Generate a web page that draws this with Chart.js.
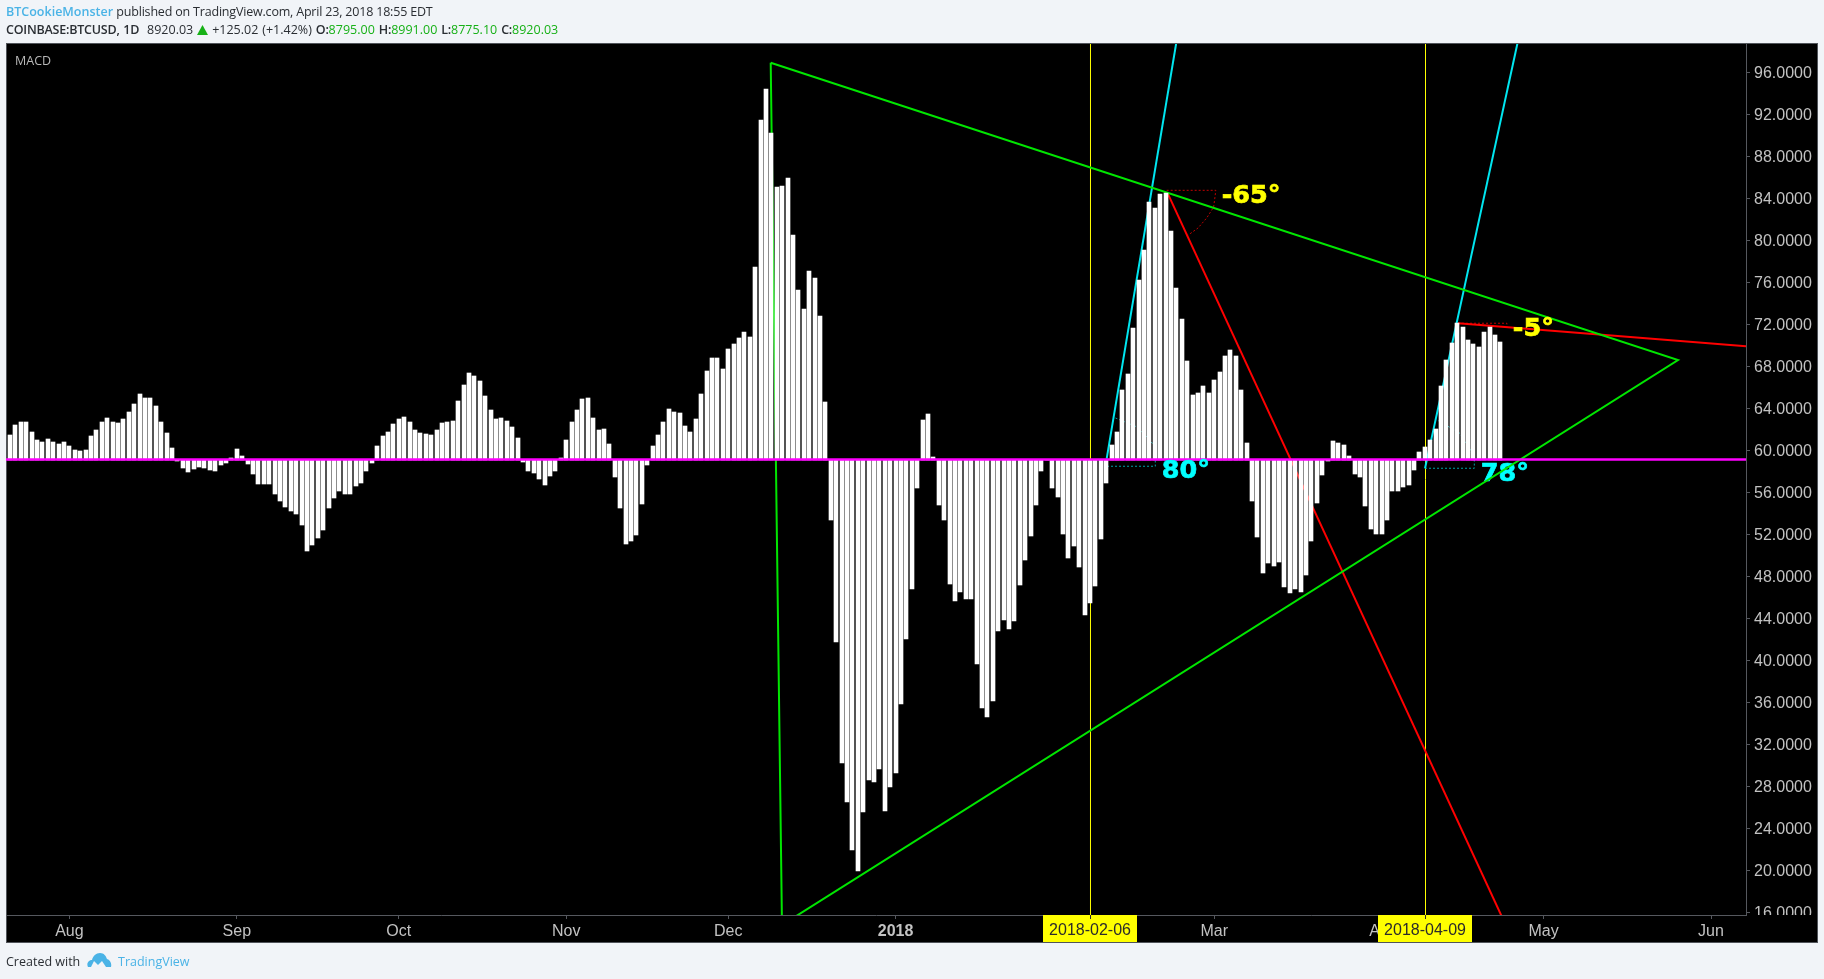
<!DOCTYPE html>
<html>
<head>
<meta charset="utf-8">
<script src="https://cdn.jsdelivr.net/npm/chart.js@4/dist/chart.umd.min.js"></script>
<style>
html,body{margin:0;padding:0;width:1824px;height:979px;background:#f1f4f8;overflow:hidden}
#panel{position:absolute;left:6px;top:43px;width:1812px;height:900px;box-sizing:border-box;background:#000;border:1px solid #50545a}
#wrap{position:absolute;left:0;top:0;width:1824px;height:979px}
.t{position:absolute;white-space:nowrap;font-family:"Open Sans",sans-serif;font-size:12.5px;color:#2a2e33}
.blue{color:#4ab3e6}
.g{color:#17b117}
b{font-weight:600;letter-spacing:-.22px}
</style>
</head>
<body>
<div id="panel"></div>
<div id="wrap"><canvas id="c" width="1824" height="979"></canvas></div>
<div class="t" style="left:6px;top:3px"><span class="blue" style="font-weight:600">BTCookieMonster</span> <span style="letter-spacing:-.19px">published on TradingView.com, April 23, 2018 18:55 EDT</span></div>
<div class="t" style="left:6px;top:21px;word-spacing:.7px"><b>COINBASE:BTCUSD, 1D</b>&nbsp; 8920.03 <svg width="11" height="10" viewBox="0 0 11 10" style="vertical-align:-1px"><path d="M5.5 0 L11 10 L0 10 Z" fill="#17b117"/></svg> +125.02 (+1.42%) <b>O:</b><span class="g">8795.00</span> <b>H:</b><span class="g">8991.00</span> <b>L:</b><span class="g">8775.10</span> <b>C:</b><span class="g">8920.03</span></div>
<div class="t" style="left:15px;top:52px;color:#b8b8b8">MACD</div>
<div class="t" style="left:6px;top:953px">Created with</div>
<svg style="position:absolute;left:87px;top:952px" width="25" height="16" viewBox="0 0 25 16"><path d="M1 15 C-1 11 2 8 5 8 C6 4 9 1 13 1 C17 1 19 4 20 7 C23 8 25 11 24 15 L19 15 L15 9 L11 13 L7 9 L4 15 Z" fill="#4ab3e6"/></svg>
<div class="t blue" style="left:118px;top:953px">TradingView</div>
<script>
const macdTops = [
61.45,62.40,62.69,62.69,61.73,60.97,60.78,61.07,60.78,60.59,60.78,60.40,60.02,59.93,60.02,61.35,61.93,62.69,63.07,62.69,
62.59,62.97,63.64,64.40,65.35,64.97,64.97,64.21,62.69,61.64,60.21,58.97,58.31,57.93,58.21,58.40,58.31,58.12,58.02,58.59,
58.78,59.26,60.12,59.45,58.69,57.73,56.78,56.78,56.78,55.83,55.16,54.59,54.21,53.93,52.88,50.40,50.97,51.64,52.40,54.50,
55.45,56.12,55.83,55.83,56.59,56.88,58.02,58.78,60.40,61.35,61.73,62.50,62.97,63.16,62.69,61.93,61.64,61.54,61.45,61.93,
62.59,62.69,62.78,64.69,66.21,67.36,67.08,66.59,65.16,63.83,62.97,63.07,62.78,62.21,61.16,58.88,58.02,57.83,57.26,56.69,
57.54,58.02,59.26,60.97,62.69,63.83,64.88,64.97,63.07,61.93,62.02,60.59,57.45,54.50,51.07,51.35,51.93,54.88,58.59,60.40,
61.45,62.69,63.93,63.64,63.54,62.31,61.73,62.97,65.35,67.54,68.78,68.78,67.73,69.64,70.12,70.69,71.26,70.78,77.45,91.45,
94.40,90.21,85.07,85.16,85.93,80.50,75.26,73.45,77.07,76.40,72.78,64.59,53.35,41.73,30.21,26.50,21.93,19.93,25.54,28.59,
28.40,29.64,25.64,27.93,29.26,35.83,42.02,46.78,56.40,62.88,63.45,59.35,54.78,53.35,47.26,45.64,46.50,45.83,45.83,39.64,
35.45,34.59,36.12,42.78,43.83,42.97,43.73,47.16,49.54,51.83,54.78,58.02,59.10,56.40,55.54,52.02,49.73,50.88,48.88,44.31,
45.45,47.07,51.54,56.88,60.50,61.73,65.73,67.26,71.64,76.21,79.07,83.64,83.07,84.40,84.50,80.88,75.45,72.50,68.50,65.26,
65.45,66.12,65.45,66.69,67.45,68.97,69.54,68.97,65.73,60.69,55.16,51.73,48.31,49.26,48.97,49.35,46.97,46.40,46.78,46.50,
48.12,51.35,54.97,57.64,59.00,60.88,60.69,60.50,59.45,57.73,57.45,54.69,52.50,52.02,52.02,53.35,56.12,56.12,56.50,56.69,
58.12,59.83,60.31,60.97,62.02,66.12,68.59,70.21,72.12,71.73,70.50,70.12,69.83,71.26,71.73,70.97,70.31
];
const dayIndex = macdTops.map((_, i) => i);
const macdBase = 59.1;
const zeroLineValue = 59.12;

const yTicks = [16,20,24,28,32,36,40,44,48,52,56,60,64,68,72,76,80,84,88,92,96];
const xTickDays = [11,42,72,103,133,164,195,223,254,284,315];
const xTickLabels = ['Aug','Sep','Oct','Nov','Dec','2018','Feb','Mar','Apr','May','Jun'];
const yearTickDay = 164;

const dateMarkers = [200.09, 262.13];
const dateMarkerLabels = ['2018-02-06','2018-04-09'];

const triangleLine = [{x:140.87,y:96.91},{x:308.89,y:68.6},{x:142.96,y:14.79},{x:140.87,y:96.91}];
const cyanLineA = [{x:203.09,y:59.2},{x:217.3,y:102.88}];
const cyanLineB = [{x:262.04,y:58.28},{x:280.9,y:102.88}];
const redLineA = [{x:214.39,y:84.47},{x:277.78,y:13.9}];
const redLineB = [{x:268.15,y:72.1},{x:324.07,y:69.81}];

const angle65 = [{x:214.2,y:84.76},{x:223.3,y:84.76},{x:222.9,y:83.17},{x:221.6,y:82.12},{x:220,y:81.17},{x:218.2,y:80.5}];
const angle5 = [{x:268.15,y:72.1},{x:277.2,y:72.1},{x:277.2,y:71.74}];
const angle80 = [{x:203.15,y:58.48},{x:212.09,y:58.48},{x:212.09,y:60.34},{x:210.5,y:61.3},{x:208.6,y:62.25},{x:204.6,y:63.1}];
const angle78 = [{x:262.04,y:58.29},{x:271.17,y:58.29},{x:271.17,y:59.08},{x:270.37,y:60.12},{x:268.5,y:61.62},{x:264.5,y:62.82}];

const angleNotes = [
  {text:'-65°', x:224.4, y:83.55, color:'#ffff00'},
  {text:'-5°',  x:278.3, y:70.89, color:'#ffff00'},
  {text:'80°',  x:213.3, y:57.36, color:'#00ffff'},
  {text:'78°',  x:272.35,y:57.1,  color:'#00ffff', under:true}
];

const xMin = -0.741, xMax = 321.48, yMin = 15.743, yMax = 98.695;
const GREEN = '#00e600', RED = '#ff0000', CYAN = '#00e6f0', AXIS = '#55585e', TXT = '#c2c2c2';

function lineSet(data, color, width, order, dash){
  return {type:'line', data, borderColor:color, borderWidth:width, pointRadius:0, tension:0,
          borderDash:dash||[], order, fill:false, parsing:false, spanGaps:true, borderCapStyle:'butt'};
}

function drawNotes(chart, under){
  const {ctx, scales:{x,y}} = chart;
  ctx.save();
  ctx.font = 'bold 25.5px "DejaVu Sans"';
  ctx.textBaseline = 'alphabetic';
  ctx.textAlign = 'left';
  ctx.lineWidth = 0.7;
  angleNotes.filter(n => !!n.under === under).forEach(n => {
    ctx.fillStyle = n.color;
    ctx.strokeStyle = n.color;
    const px = x.getPixelForValue(n.x), py = y.getPixelForValue(n.y);
    ctx.fillText(n.text, px, py);
    ctx.strokeText(n.text, px, py);
  });
  ctx.restore();
}

const paintPlugin = {
  id:'paint',
  afterDatasetsUpdate(chart){
    const meta = chart.getDatasetMeta(0);
    meta.data.forEach(b => {
      b.x = Math.round(b.x - 2) + 2;
      b.y = Math.round(b.y);
      b.base = Math.round(b.base);
    });
  },
  beforeDatasetsDraw(chart){
    const {ctx, chartArea:a} = chart;
    ctx.save(); ctx.beginPath(); ctx.rect(a.left,a.top,a.width,a.height); ctx.clip();
    drawNotes(chart, true);
    ctx.restore();
  },
  afterDatasetsDraw(chart){
    const {ctx, chartArea:a} = chart;
    ctx.save(); ctx.beginPath(); ctx.rect(a.left,a.top,a.width,a.height); ctx.clip();
    drawNotes(chart, false);
    ctx.restore();
  },
  afterDraw(chart){
    const {ctx, chartArea:a, scales:{x}} = chart;
    ctx.save();
    ctx.fillStyle = '#000';
    ctx.fillRect(a.right+1, a.bottom, 1817-a.right-1, 942-a.bottom);
    ctx.font = '16px "Liberation Sans"';
    ctx.textAlign = 'center';
    ctx.textBaseline = 'middle';
    dateMarkers.forEach((d,i) => {
      const cx = Math.floor(x.getPixelForValue(d));
      ctx.fillStyle = '#ffff00';
      ctx.fillRect(cx-47, a.bottom, 94, 942-a.bottom);
      ctx.fillStyle = '#2b2b2b';
      ctx.fillText(dateMarkerLabels[i], cx, 931);
    });
    ctx.strokeStyle = '#2b2b2b';
    ctx.lineWidth = 1;
    ctx.beginPath();
    dateMarkers.forEach(d => {
      const cx = Math.floor(x.getPixelForValue(d));
      ctx.moveTo(cx+.5, a.bottom); ctx.lineTo(cx+.5, a.bottom+4);
    });
    ctx.stroke();
    ctx.restore();
  }
};

new Chart(document.getElementById('c'), {
  data:{
    datasets:[
      {type:'bar', data: macdTops.map((v,i)=>({x:dayIndex[i],y:v})), base:macdBase, backgroundColor:'#ffffff',
       barThickness:4, borderWidth:0, order:2},
      lineSet(triangleLine, GREEN, 2, 3),
      lineSet(cyanLineA, CYAN, 2, 4),
      lineSet(cyanLineB, CYAN, 2, 4),
      lineSet(redLineA, RED, 2, 5),
      lineSet(redLineB, RED, 2, 5),
      lineSet(angle65, '#c00000', 1, 6, [2,2]),
      lineSet(angle5, '#c00000', 1, 6, [2,2]),
      lineSet(angle80, '#00a0a6', 1, 6, [2,2]),
      lineSet(angle78, '#00a0a6', 1, 6, [2,2]),
      lineSet(dateMarkers.slice(0,1).flatMap(d=>[{x:d,y:yMin},{x:d,y:yMax}]), '#ffff00', 1, 7),
      lineSet(dateMarkers.slice(1,2).flatMap(d=>[{x:d,y:yMin},{x:d,y:yMax}]), '#ffff00', 1, 7),
      lineSet([{x:xMin,y:zeroLineValue},{x:xMax,y:zeroLineValue}], '#ff00ff', 2.5, 0)
    ]
  },
  options:{
    responsive:false, animation:false, events:[],
    layout:{padding:{left:6,top:44,right:6,bottom:37}},
    plugins:{legend:{display:false},tooltip:{enabled:false}},
    scales:{
      x:{type:'linear', offset:false, min:xMin, max:xMax,
        afterFit(s){s.height=27;},
        afterBuildTicks(s){s.ticks=xTickDays.map(v=>({value:v}));},
        grid:{offset:false,drawOnChartArea:false,drawTicks:true,tickLength:4,color:AXIS},
        border:{color:AXIS,width:1},
        ticks:{autoSkip:false,maxRotation:0,minRotation:0,padding:3,color:TXT,includeBounds:false,
          font:c=>({family:'"Liberation Sans"',size:16,weight:(c.tick&&c.tick.value===yearTickDay)?'bold':'normal'}),
          callback:v=>xTickLabels[xTickDays.indexOf(v)]}
      },
      y:{type:'linear', position:'right', min:yMin, max:yMax,
        afterFit(s){s.width=72;},
        afterBuildTicks(s){s.ticks=yTicks.map(v=>({value:v}));},
        grid:{drawOnChartArea:false,drawTicks:true,tickLength:4,color:AXIS},
        border:{color:AXIS,width:1},
        ticks:{padding:4,labelOffset:1,color:TXT,autoSkip:false,includeBounds:false,
          font:{family:'"Liberation Sans"',size:16},
          callback:v=>v.toFixed(4)}
      }
    }
  },
  plugins:[paintPlugin]
});
</script>
</body>
</html>
